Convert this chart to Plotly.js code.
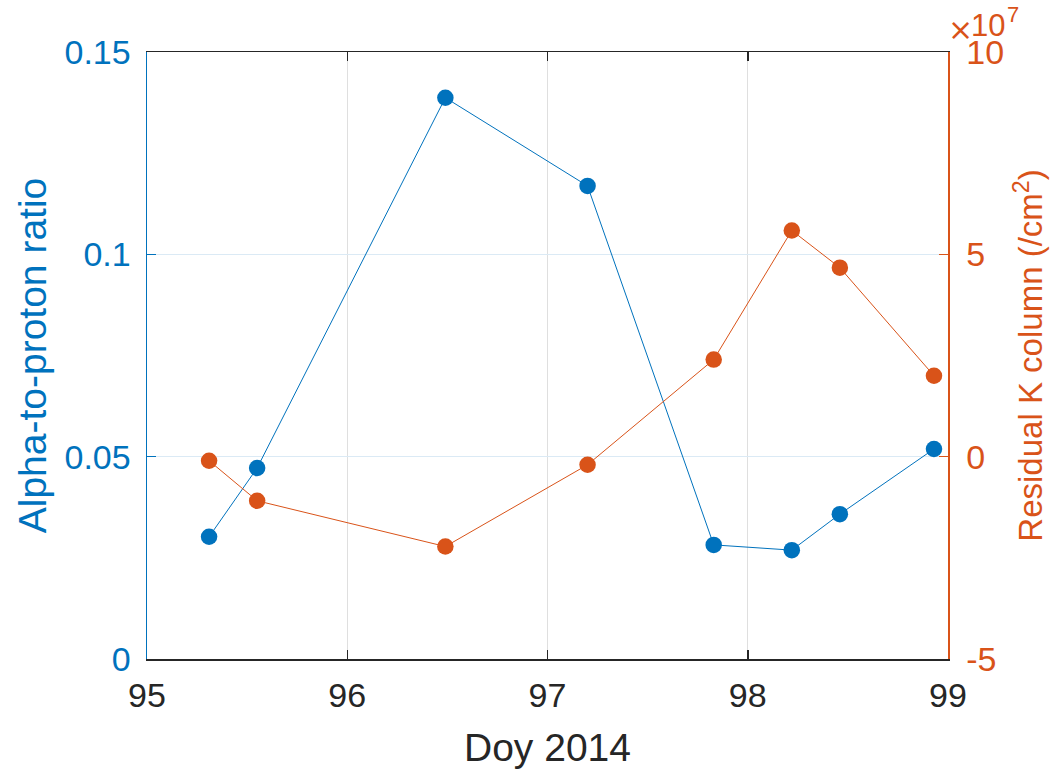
<!DOCTYPE html>
<html>
<head>
<meta charset="utf-8">
<script src="https://cdn.plot.ly/plotly-3.0.1.min.js"></script>
<style>html,body{margin:0;padding:0;background:#fff;}#chart{width:1050px;height:769px;}</style>
</head>
<body>
<div id="chart"></div>
<script>
// Day of year 2014
const doy = [95.31, 95.55, 96.49, 97.20, 97.83, 98.22, 98.46, 98.93];
// Alpha-to-proton ratio (left axis)
const alphaProton = [0.0302, 0.0472, 0.1387, 0.1169, 0.0282, 0.0269, 0.0358, 0.0519];
// Residual K column (/cm^2) (right axis)
const residualK = [-0.10e7, -1.09e7, -2.22e7, -0.20e7, 2.40e7, 5.59e7, 4.67e7, 2.00e7];

const xTicks = [95, 96, 97, 98, 99];
const xTickText = ['95', '96', '97', '98', '99'];
const yTicks = [0, 0.05, 0.1, 0.15];
const yTickText = ['0', '0.05', '0.1', '0.15'];
const y2Ticks = [-5e7, 0, 5e7, 10e7];
const y2TickText = ['-5', '0', '5', '10'];

const BLUE = '#0072BD';
const ORANGE = '#D95319';
const DARK = '#262626';
const FONT = 'Liberation Sans, Arial, Helvetica, sans-serif';

const traces = [
  {
    x: doy, y: alphaProton, type: 'scatter', mode: 'lines+markers',
    line: {color: BLUE, width: 1}, marker: {color: BLUE, size: 16.5},
    yaxis: 'y', showlegend: false, cliponaxis: false
  },
  {
    x: doy, y: residualK, type: 'scatter', mode: 'lines+markers',
    line: {color: ORANGE, width: 1}, marker: {color: ORANGE, size: 16.5},
    yaxis: 'y2', showlegend: false, cliponaxis: false
  }
];

const layout = {
  width: 1050, height: 769,
  margin: {l: 147, r: 102, t: 52, b: 110},
  paper_bgcolor: '#fff', plot_bgcolor: '#fff',
  font: {family: FONT, size: 30, color: DARK},
  xaxis: {
    range: [95, 99], tickvals: xTicks, ticktext: xTickText,
    showline: true, linecolor: DARK, linewidth: 1.5, mirror: 'ticks',
    ticks: 'inside', ticklen: 9, tickcolor: DARK, tickwidth: 1.5,
    showgrid: true, gridcolor: '#dfdfdf', gridwidth: 1,
    zeroline: false, tickfont: {size: 34, color: DARK, family: FONT},
    ticklabelstandoff: 6,
    title: {text: 'Doy 2014', font: {size: 39, color: DARK, family: FONT}, standoff: 20}
  },
  yaxis: {
    range: [0, 0.15], tickvals: yTicks, ticktext: yTickText,
    showline: true, linecolor: BLUE, linewidth: 1.5,
    ticks: 'inside', ticklen: 9, tickcolor: BLUE, tickwidth: 1.5,
    showgrid: true, gridcolor: '#dbeaf5', gridwidth: 1,
    zeroline: false, tickfont: {size: 34, color: BLUE, family: FONT},
    ticklabelstandoff: 8,
    title: {text: 'Alpha-to-proton ratio', font: {size: 39, color: BLUE, family: FONT}, standoff: 6}
  },
  yaxis2: {
    range: [-5e7, 10e7], tickvals: y2Ticks, ticktext: y2TickText,
    overlaying: 'y', side: 'right', anchor: 'x',
    showline: true, linecolor: ORANGE, linewidth: 1.5,
    ticks: 'inside', ticklen: 9, tickcolor: ORANGE, tickwidth: 1.5,
    showgrid: false, zeroline: false,
    tickfont: {size: 34, color: ORANGE, family: FONT},
    ticklabelstandoff: 10,
    title: {text: 'Residual K column (/cm<sup>2</sup>)', font: {size: 33, color: ORANGE, family: FONT}, standoff: 16}
  },
  annotations: [
    {xref: 'paper', yref: 'paper', x: 1, y: 1, xanchor: 'center', yanchor: 'middle',
     xshift: 12, yshift: 23, showarrow: false, text: '×',
     font: {size: 30, color: ORANGE, family: 'DejaVu Sans, sans-serif'}},
    {xref: 'paper', yref: 'paper', x: 1, y: 1, xanchor: 'center', yanchor: 'middle',
     xshift: 40, yshift: 27, showarrow: false, text: '10',
     font: {size: 31, color: ORANGE, family: FONT}},
    {xref: 'paper', yref: 'paper', x: 1, y: 1, xanchor: 'center', yanchor: 'middle',
     xshift: 65, yshift: 38, showarrow: false, text: '7',
     font: {size: 22, color: ORANGE, family: FONT}}
  ]
};

Plotly.newPlot('chart', traces, layout, {displayModeBar: false, staticPlot: true});
</script>
</body>
</html>
